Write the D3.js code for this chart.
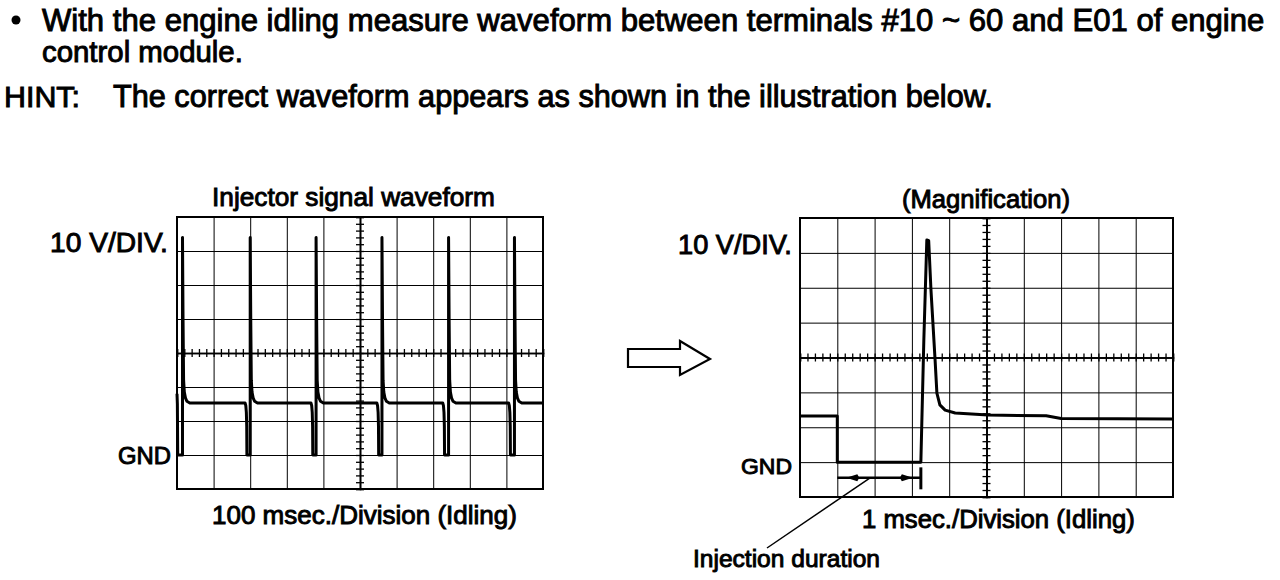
<!DOCTYPE html>
<html><head><meta charset="utf-8">
<script src="https://cdn.jsdelivr.net/npm/d3@7"></script>
<style>
html,body{margin:0;padding:0;background:#fff;}
svg{display:block;}
text{font-family:"Liberation Sans",Arial,Helvetica,sans-serif;font-weight:normal;fill:#000;stroke:#000;stroke-width:0.95px;}
</style>
</head><body>
<svg id="c" width="1280" height="580"></svg>
<script>
// ---------------- DATA ----------------
const voltTicks = [-10, 0, 10, 20, 30, 40, 50, 60, 70];           // 10 V / division
const leftTimeTicks = [0, 100, 200, 300, 400, 500, 600, 700, 800, 900, 1000]; // 100 ms / division
const rightTimeTicks = [0, 1, 2, 3, 4, 5, 6, 7, 8, 9, 10];        // 1 ms / division

// Injector signal waveform (ms, V) — idling, 100 ms/div
const leftTime = [
  0, 1, 2,
  15, 15, 16.5, 18, 20, 23, 27, 35,
  186, 188, 189.5, 190.5, 191,
  200, 200, 201.5, 203, 205, 208, 212, 220,
  366, 368, 369.5, 370.5, 371,
  380, 380, 381.5, 383, 385, 388, 392, 400,
  546, 548, 549.5, 550.5, 551,
  560, 560, 561.5, 563, 565, 568, 572, 580,
  726, 728, 729.5, 730.5, 731,
  742, 742, 743.5, 745, 747, 750, 754, 762,
  906, 908, 909.5, 910.5, 911,
  922, 922, 923.5, 925, 927, 930, 934, 942,
  1000
];
const leftVolt = [
  18, 15, 0,
  0, 64, 40, 22, 18.5, 16.8, 15.8, 15.3,
  15.3, 14.5, 12.5, 8.5, 0,
  0, 64, 40, 22, 18.5, 16.8, 15.8, 15.3,
  15.3, 14.5, 12.5, 8.5, 0,
  0, 64, 40, 22, 18.5, 16.8, 15.8, 15.3,
  15.3, 14.5, 12.5, 8.5, 0,
  0, 64, 40, 22, 18.5, 16.8, 15.8, 15.3,
  15.3, 14.5, 12.5, 8.5, 0,
  0, 64, 40, 22, 18.5, 16.8, 15.8, 15.3,
  15.3, 14.5, 12.5, 8.5, 0,
  0, 64, 40, 22, 18.5, 16.8, 15.8, 15.3,
  15.3
];

// Magnified waveform (ms, V) — 1 ms/div
const rightTime = [0, 1.0, 1.0, 3.24, 3.32, 3.40, 3.45, 3.51, 3.62, 3.67, 3.75, 3.89, 4.16, 5.04, 6.6, 7.0, 10];
const rightVolt = [13.2, 13.2, 0, 0, 35, 63.7, 63.5, 49.6, 29.6, 19.8, 16.4, 14.9, 14.1, 13.5, 13.3, 12.5, 12.4];

const injectionDuration = [1.0, 3.24]; // ms (start, end)

// ---------------- LAYOUT ----------------
const svg = d3.select('#c');
const L = {x0: 177, x1: 543, y0: 489, y1: 217};
const R = {x0: 800, x1: 1173, y0: 497, y1: 218};

const xL = d3.scaleLinear().domain([0, 1000]).range([L.x0, L.x1]);
const yL = d3.scaleLinear().domain([-10, 70]).range([L.y0, L.y1]);
const xR = d3.scaleLinear().domain([0, 10]).range([R.x0, R.x1]);
const yR = d3.scaleLinear().domain([-10, 70]).range([R.y0, R.y1]);

function drawScope(box, x, y, xTicks, xCenter, yCenter) {
  const g = svg.append('g');
  const h = box.y0 - box.y1, w = box.x1 - box.x0;
  const gv = g.append('g').attr('transform', `translate(0,${box.y0})`)
    .call(d3.axisBottom(x).tickValues(xTicks).tickSize(-h).tickFormat(''));
  const gh = g.append('g').attr('transform', `translate(${box.x0},0)`)
    .call(d3.axisLeft(y).tickValues(voltTicks).tickSize(-w).tickFormat(''));
  [gv, gh].forEach(a => {
    a.select('.domain').remove();
    a.selectAll('line').attr('stroke', '#000').attr('stroke-width', 1);
  });
  const xMinor = x.ticks(50), yMinor = y.ticks(40);
  [4, -4].forEach(s => {
    const a = g.append('g').attr('transform', `translate(0,${y(yCenter)})`)
      .call(d3.axisBottom(x).tickValues(xMinor).tickSize(s).tickFormat(''));
    a.select('.domain').attr('stroke', '#000').attr('stroke-width', 1.6);
    a.selectAll('line').attr('stroke', '#000').attr('stroke-width', 1.3);
    const b = g.append('g').attr('transform', `translate(${x(xCenter)},0)`)
      .call(d3.axisLeft(y).tickValues(yMinor).tickSize(s).tickFormat(''));
    b.select('.domain').attr('stroke', '#000').attr('stroke-width', 1.6);
    b.selectAll('line').attr('stroke', '#000').attr('stroke-width', 1.3);
  });
  g.append('rect').attr('x', box.x0).attr('y', box.y1).attr('width', w).attr('height', h)
    .attr('fill', 'none').attr('stroke', '#000').attr('stroke-width', 2);
  return g;
}

drawScope(L, xL, yL, leftTimeTicks, 500, 30);
drawScope(R, xR, yR, rightTimeTicks, 5, 30);

// traces
const lineL = d3.line().x(i => xL(leftTime[i])).y(i => yL(leftVolt[i]));
svg.append('path').attr('d', lineL(d3.range(leftTime.length)))
  .attr('fill', 'none').attr('stroke', '#000').attr('stroke-width', 3).attr('stroke-linejoin', 'round');
const lineR = d3.line().x(i => xR(rightTime[i])).y(i => yR(rightVolt[i]));
svg.append('path').attr('d', lineR(d3.range(rightTime.length)))
  .attr('fill', 'none').attr('stroke', '#000').attr('stroke-width', 3).attr('stroke-linejoin', 'round');

// injection duration annotation
const ay = yR(-4.5);
const ax0 = xR(injectionDuration[0]), ax1 = xR(injectionDuration[1]);
svg.append('line').attr('x1', ax0).attr('x2', ax1).attr('y1', ay).attr('y2', ay)
  .attr('stroke', '#000').attr('stroke-width', 2.5);
svg.append('line').attr('x1', ax1).attr('x2', ax1).attr('y1', yR(-1.5)).attr('y2', yR(-7.8))
  .attr('stroke', '#000').attr('stroke-width', 3);
svg.append('path').attr('d', `M${ax0 + 9},${ay} L${ax0 + 20},${ay - 3.5} L${ax0 + 22},${ay} L${ax0 + 20},${ay + 3.5} Z`).attr('fill', '#000');
svg.append('path').attr('d', `M${ax1 - 8},${ay} L${ax1 - 19},${ay - 3.5} L${ax1 - 21},${ay} L${ax1 - 19},${ay + 3.5} Z`).attr('fill', '#000');
svg.append('line').attr('x1', xR(1.88)).attr('y1', ay).attr('x2', 767).attr('y2', 548)
  .attr('stroke', '#000').attr('stroke-width', 1.5);

// block arrow between the two scopes
const A = {x: 628, y: 358};
svg.append('path').attr('d',
  `M${A.x},${A.y - 9} L${A.x + 52},${A.y - 9} L${A.x + 52},${A.y - 17} L${A.x + 82},${A.y + 1} L${A.x + 52},${A.y + 17} L${A.x + 52},${A.y + 9} L${A.x},${A.y + 9} Z`)
  .attr('fill', '#fff').attr('stroke', '#000').attr('stroke-width', 2.2).attr('stroke-linejoin', 'miter');

// ---------------- TEXT ----------------
function put(txt, x, y, w, size) {
  const t = svg.append('text').attr('x', x).attr('y', y).attr('font-size', size).text(txt);
  const len = t.node().getComputedTextLength();
  if (w) t.attr('font-size', size * w / len);
  return t;
}
svg.append('circle').attr('cx', 16).attr('cy', 20).attr('r', 4.5).attr('fill', '#000');
put('With the engine idling measure waveform between terminals #10 ~ 60 and E01 of engine', 42, 31, 1223, 26);
put('control module.', 42, 62, 201, 26);
put('HINT:', 4, 107, 76, 26);
put('The correct waveform appears as shown in the illustration below.', 113, 107, 880, 26);
put('Injector signal waveform', 212, 206, 283, 22);
put('10 V/DIV.', 50, 252, 118, 22);
put('GND', 118, 464, 53, 22);
put('100 msec./Division (Idling)', 212, 524, 305, 22);
put('(Magnification)', 902, 208, 168, 22);
put('10 V/DIV.', 678, 254, 114, 22);
put('GND', 741, 474, 51, 22);
put('1 msec./Division (Idling)', 862, 528, 273, 22);
put('Injection duration', 693, 567, 187, 22);
</script>
</body></html>
